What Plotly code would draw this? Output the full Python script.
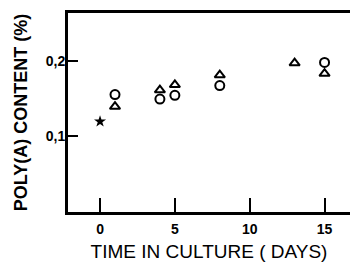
import plotly.graph_objects as go

# Data
star_days = [0]
star_vals = [0.119]
circle_days = [1, 4, 5, 8, 15]
circle_vals = [0.155, 0.149, 0.154, 0.167, 0.198]
tri_days = [1, 4, 5, 8, 13, 15]
tri_vals = [0.139, 0.161, 0.168, 0.181, 0.197, 0.183]

x_ticks = [0, 5, 10, 15]
x_tick_labels = ["0", "5", "10", "15"]
y_ticks = [0.1, 0.2]
y_tick_labels = ["0,1", "0,2"]

FONT = "Liberation Sans, Arial, sans-serif"

fig = go.Figure()
fig.add_trace(go.Scatter(x=star_days, y=star_vals, mode="markers",
                         marker=dict(symbol="star", size=9, color="black",
                                     line=dict(width=0)), showlegend=False))
fig.add_trace(go.Scatter(x=circle_days, y=circle_vals, mode="markers",
                         marker=dict(symbol="circle-open", size=9, color="black",
                                     line=dict(width=2)), showlegend=False))
fig.add_trace(go.Scatter(x=tri_days, y=tri_vals, mode="markers",
                         marker=dict(symbol="triangle-up-open", size=9, color="black",
                                     line=dict(width=2)), showlegend=False))

fig.update_layout(
    width=350, height=262,
    margin=dict(l=68, r=0, t=13, b=50, autoexpand=False),
    paper_bgcolor="white", plot_bgcolor="white",
    font=dict(family=FONT, color="black"),
    xaxis=dict(
        range=[-2.14, 16.7], showgrid=False, zeroline=False, automargin=False,
        showline=True, linewidth=3, linecolor="black", mirror=True,
        ticks="inside", ticklen=14, tickwidth=2, tickcolor="black",
        tickvals=x_ticks, ticktext=x_tick_labels, ticklabelstandoff=2,
        tickfont=dict(size=14, weight="bold"),
        title=dict(text="TIME IN CULTURE ( DAYS)", font=dict(size=19), standoff=12),
    ),
    yaxis=dict(
        range=[-0.002, 0.264], showgrid=False, zeroline=False, automargin=False,
        showline=True, linewidth=3, linecolor="black", mirror=False,
        ticks="inside", ticklen=10, tickwidth=2, tickcolor="black",
        tickvals=y_ticks, ticktext=y_tick_labels, ticklabelstandoff=-3,
        tickfont=dict(size=14, weight="bold"),
        title=dict(text="POLY(A) CONTENT (%)", font=dict(size=18, weight="bold"), standoff=14),
    ),
)

fig.write_html("out.html", config={"displayModeBar": False},
               post_script="document.body.style.margin='0';")
